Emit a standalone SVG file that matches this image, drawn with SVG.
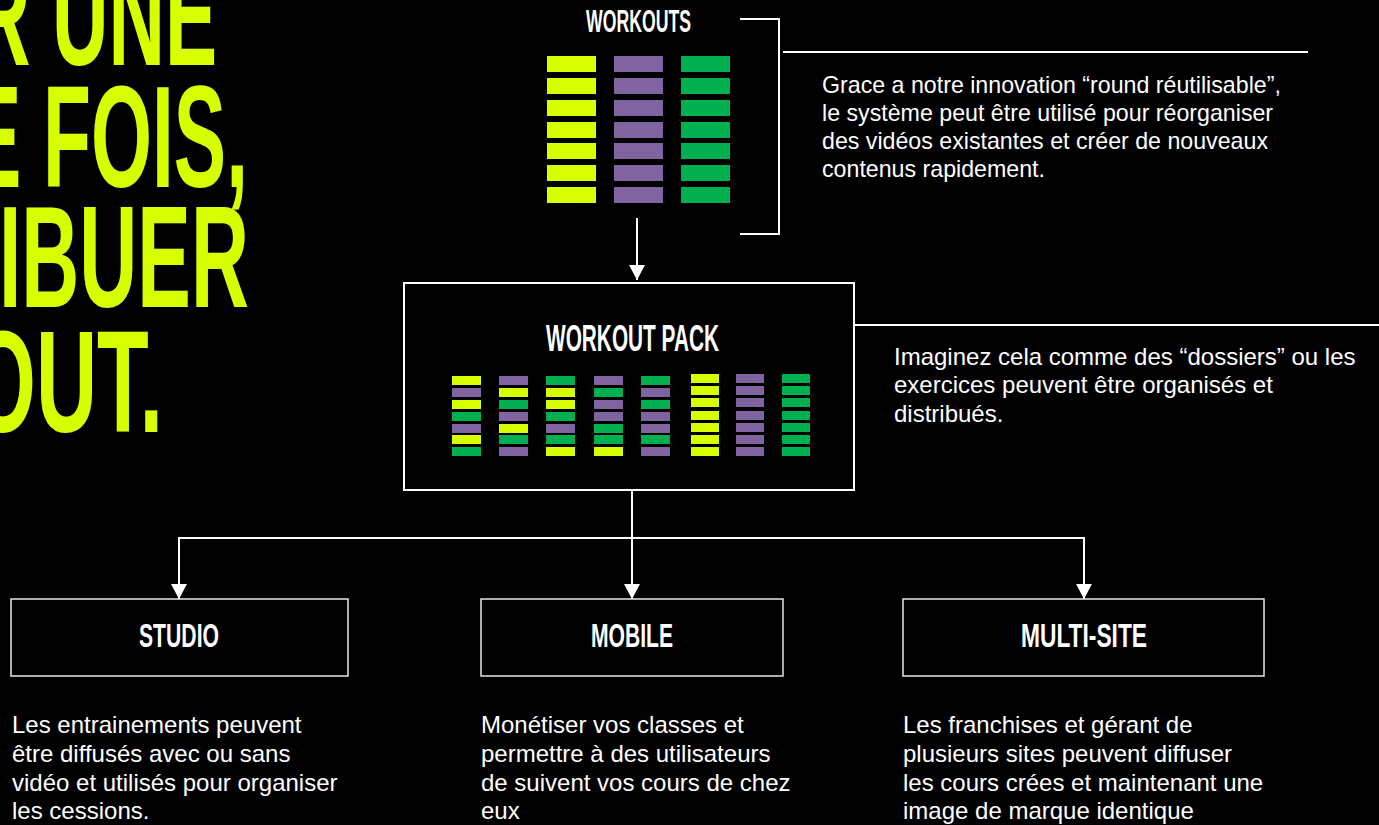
<svg xmlns="http://www.w3.org/2000/svg" width="1379" height="825" viewBox="0 0 1379 825">
<style>
.head{font-family:"Liberation Sans",Arial,sans-serif;font-weight:bold;fill:#D8FF00}
.title{font-family:"Liberation Sans",Arial,sans-serif;font-weight:bold;fill:#FFFFFF;text-anchor:middle}
.body{font-family:"Liberation Sans",Arial,sans-serif;fill:#FFFFFF;font-size:24px}
.y{fill:#D8FF00}.p{fill:#8064A2}.g{fill:#00B050}
.box{fill:none;stroke:#E6E6E6;stroke-width:1.5}
.ln{fill:none;stroke:#FFFFFF;stroke-width:2}
</style>
<defs>
<marker id="ah" viewBox="0 0 15 16" refX="15" refY="8" markerWidth="15" markerHeight="16" markerUnits="userSpaceOnUse" orient="auto">
<path d="M0,0 L15,8 L0,16 Z" fill="#FFFFFF"/>
</marker>
</defs>
<rect x="0" y="0" width="1379" height="825" fill="#000000"/>

<g id="headline">
<text class="head" x="-26" y="65" font-size="145" textLength="243" lengthAdjust="spacingAndGlyphs">R UNE</text>
<text class="head" x="-31" y="187" font-size="145" textLength="279" lengthAdjust="spacingAndGlyphs">E FOIS,</text>
<text class="head" x="-1" y="307" font-size="145" textLength="250" lengthAdjust="spacingAndGlyphs">IBUER</text>
<text class="head" x="-30" y="432" font-size="145" textLength="193" lengthAdjust="spacingAndGlyphs">OUT.</text>
</g>

<g id="connectors">
<path class="ln" d="M740,19 H779 V234 H740"/>
<path class="ln" d="M783,52 H1308"/>
<path class="ln" d="M854,325 H1379"/>
<path class="ln" d="M637,218 V280" marker-end="url(#ah)"/>
<path class="ln" d="M632,490 V599" marker-end="url(#ah)"/>
<path class="ln" d="M632,538 H179 V599" marker-end="url(#ah)"/>
<path class="ln" d="M632,538 H1084 V599" marker-end="url(#ah)"/>
</g>

<g id="workouts">
<text class="title" x="638.5" y="32" font-size="30.5" textLength="105" lengthAdjust="spacingAndGlyphs">WORKOUTS</text>
<g>
<rect class="y" x="547" y="56" width="49" height="16"/><rect class="y" x="547" y="78" width="49" height="16"/><rect class="y" x="547" y="100" width="49" height="16"/><rect class="y" x="547" y="122" width="49" height="16"/><rect class="y" x="547" y="143" width="49" height="16"/><rect class="y" x="547" y="165" width="49" height="16"/><rect class="y" x="547" y="187" width="49" height="16"/>
<rect class="p" x="614" y="56" width="49" height="16"/><rect class="p" x="614" y="78" width="49" height="16"/><rect class="p" x="614" y="100" width="49" height="16"/><rect class="p" x="614" y="122" width="49" height="16"/><rect class="p" x="614" y="143" width="49" height="16"/><rect class="p" x="614" y="165" width="49" height="16"/><rect class="p" x="614" y="187" width="49" height="16"/>
<rect class="g" x="681" y="56" width="49" height="16"/><rect class="g" x="681" y="78" width="49" height="16"/><rect class="g" x="681" y="100" width="49" height="16"/><rect class="g" x="681" y="122" width="49" height="16"/><rect class="g" x="681" y="143" width="49" height="16"/><rect class="g" x="681" y="165" width="49" height="16"/><rect class="g" x="681" y="187" width="49" height="16"/>
</g>
</g>

<g id="workouts-note">
<text class="body" font-size="23.2" style="font-size:23.2px">
<tspan x="822" y="93">Grace a notre innovation “round réutilisable”,</tspan>
<tspan x="822" y="121">le système peut être utilisé pour réorganiser</tspan>
<tspan x="822" y="149">des vidéos existantes et créer de nouveaux</tspan>
<tspan x="822" y="177">contenus rapidement.</tspan>
</text>
</g>

<g id="workout-pack">
<rect x="404" y="283" width="450" height="207" fill="none" stroke="#FFFFFF" stroke-width="2"/>
<text class="title" x="632.5" y="351" font-size="36" textLength="173" lengthAdjust="spacingAndGlyphs">WORKOUT PACK</text>
<g>
<rect class="y" x="452" y="376" width="29" height="9"/><rect class="p" x="452" y="388" width="29" height="9"/><rect class="y" x="452" y="400" width="29" height="9"/><rect class="g" x="452" y="412" width="29" height="9"/><rect class="p" x="452" y="424" width="29" height="9"/><rect class="y" x="452" y="435" width="29" height="9"/><rect class="g" x="452" y="447" width="29" height="9"/>
<rect class="p" x="499" y="376" width="29" height="9"/><rect class="y" x="499" y="388" width="29" height="9"/><rect class="g" x="499" y="400" width="29" height="9"/><rect class="p" x="499" y="412" width="29" height="9"/><rect class="y" x="499" y="424" width="29" height="9"/><rect class="g" x="499" y="435" width="29" height="9"/><rect class="p" x="499" y="447" width="29" height="9"/>
<rect class="g" x="546" y="376" width="29" height="9"/><rect class="y" x="546" y="388" width="29" height="9"/><rect class="y" x="546" y="400" width="29" height="9"/><rect class="g" x="546" y="412" width="29" height="9"/><rect class="p" x="546" y="424" width="29" height="9"/><rect class="g" x="546" y="435" width="29" height="9"/><rect class="y" x="546" y="447" width="29" height="9"/>
<rect class="p" x="594" y="376" width="29" height="9"/><rect class="g" x="594" y="388" width="29" height="9"/><rect class="p" x="594" y="400" width="29" height="9"/><rect class="p" x="594" y="412" width="29" height="9"/><rect class="g" x="594" y="424" width="29" height="9"/><rect class="g" x="594" y="435" width="29" height="9"/><rect class="y" x="594" y="447" width="29" height="9"/>
<rect class="g" x="641" y="376" width="29" height="9"/><rect class="p" x="641" y="388" width="29" height="9"/><rect class="g" x="641" y="400" width="29" height="9"/><rect class="p" x="641" y="412" width="29" height="9"/><rect class="p" x="641" y="424" width="29" height="9"/><rect class="g" x="641" y="435" width="29" height="9"/><rect class="p" x="641" y="447" width="29" height="9"/>
<rect class="y" x="691" y="374" width="28" height="9"/><rect class="y" x="691" y="386" width="28" height="9"/><rect class="y" x="691" y="398" width="28" height="9"/><rect class="y" x="691" y="411" width="28" height="9"/><rect class="y" x="691" y="423" width="28" height="9"/><rect class="y" x="691" y="435" width="28" height="9"/><rect class="y" x="691" y="447" width="28" height="9"/>
<rect class="p" x="736" y="374" width="28" height="9"/><rect class="p" x="736" y="386" width="28" height="9"/><rect class="p" x="736" y="398" width="28" height="9"/><rect class="p" x="736" y="411" width="28" height="9"/><rect class="p" x="736" y="423" width="28" height="9"/><rect class="p" x="736" y="435" width="28" height="9"/><rect class="p" x="736" y="447" width="28" height="9"/>
<rect class="g" x="782" y="374" width="28" height="9"/><rect class="g" x="782" y="386" width="28" height="9"/><rect class="g" x="782" y="398" width="28" height="9"/><rect class="g" x="782" y="411" width="28" height="9"/><rect class="g" x="782" y="423" width="28" height="9"/><rect class="g" x="782" y="435" width="28" height="9"/><rect class="g" x="782" y="447" width="28" height="9"/>
</g>
</g>

<g id="pack-note">
<text class="body">
<tspan x="894" y="365">Imaginez cela comme des “dossiers” ou les</tspan>
<tspan x="894" y="393">exercices peuvent être organisés et</tspan>
<tspan x="894" y="422">distribués.</tspan>
</text>
</g>

<g id="studio">
<rect class="box" x="11" y="599" width="337" height="77"/>
<text class="title" x="179" y="647" font-size="33.5" textLength="80" lengthAdjust="spacingAndGlyphs">STUDIO</text>
<text class="body">
<tspan x="12" y="733">Les entrainements peuvent</tspan>
<tspan x="12" y="762">être diffusés avec ou sans</tspan>
<tspan x="12" y="791">vidéo et utilisés pour organiser</tspan>
<tspan x="12" y="819">les cessions.</tspan>
</text>
</g>

<g id="mobile">
<rect class="box" x="481" y="599" width="302" height="77"/>
<text class="title" x="632" y="647" font-size="33.5" textLength="82" lengthAdjust="spacingAndGlyphs">MOBILE</text>
<text class="body">
<tspan x="481" y="733">Monétiser vos classes et</tspan>
<tspan x="481" y="762">permettre à des utilisateurs</tspan>
<tspan x="481" y="791">de suivent vos cours de chez</tspan>
<tspan x="481" y="819">eux</tspan>
</text>
</g>

<g id="multisite">
<rect class="box" x="903" y="599" width="361" height="77"/>
<text class="title" x="1084" y="647" font-size="33.5" textLength="126" lengthAdjust="spacingAndGlyphs">MULTI-SITE</text>
<text class="body">
<tspan x="903" y="733">Les franchises et gérant de</tspan>
<tspan x="903" y="762">plusieurs sites peuvent diffuser</tspan>
<tspan x="903" y="791">les cours crées et maintenant une</tspan>
<tspan x="903" y="819">image de marque identique</tspan>
</text>
</g>
</svg>
